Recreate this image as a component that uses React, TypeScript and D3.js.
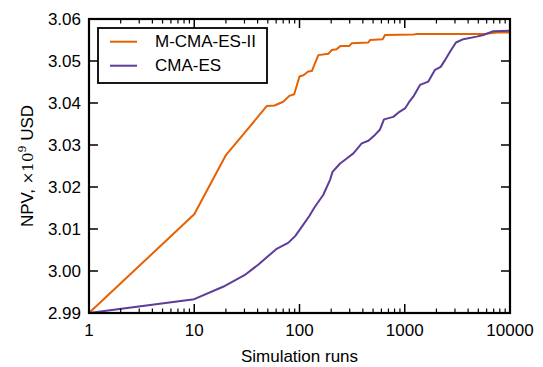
import React from "react";
import * as d3 from "d3";

const mcmaRuns = [1, 10, 20, 34, 49, 58, 70, 80, 89, 100, 109, 121, 131, 151, 188, 202, 225, 246, 298, 313, 451, 468, 617, 649, 1204, 1297, 5580, 7480, 10000];
const mcmaNpv = [2.99, 3.0135, 3.0276, 3.0345, 3.0393, 3.0394, 3.0403, 3.0417, 3.0421, 3.0463, 3.0466, 3.0475, 3.0476, 3.0514, 3.0517, 3.0526, 3.0528, 3.0536, 3.0536, 3.0542, 3.0544, 3.055, 3.0552, 3.0562, 3.0563, 3.0564, 3.0564, 3.0568, 3.0568];

const cmaRuns = [1, 10, 19, 30, 41, 60, 78, 91, 105, 124, 140, 168, 195, 206, 243, 281, 325, 390, 451, 521, 582, 635, 778, 868, 1005, 1105, 1205, 1396, 1675, 1938, 2195, 2412, 2690, 3067, 3597, 4819, 5585, 6936, 10000];
const cmaNpv = [2.99, 2.9933, 2.9963, 2.999, 3.0016, 3.0052, 3.0067, 3.0083, 3.0105, 3.0131, 3.0153, 3.0181, 3.0217, 3.0236, 3.0256, 3.0268, 3.028, 3.0304, 3.031, 3.0324, 3.0337, 3.0361, 3.0367, 3.0377, 3.0387, 3.0403, 3.0415, 3.0443, 3.0451, 3.0479, 3.0486, 3.0502, 3.0522, 3.0544, 3.0552, 3.0558, 3.0562, 3.0571, 3.0572];

const xTicks = [1, 10, 100, 1000, 10000];
const yTicks = [2.99, 3.0, 3.01, 3.02, 3.03, 3.04, 3.05, 3.06];
const seriesNames = ["M-CMA-ES-II", "CMA-ES"];
const colors = ["#e66101", "#5e3c99"];

export default function App() {
  const W = 543, H = 367;
  const L = 89, R = 510, T = 19, B = 313;
  const x = d3.scaleLog().domain([1, 10000]).range([L, R]);
  const y = d3.scaleLinear().domain([2.99, 3.06]).range([B, T]);
  const line = d3.line<[number, number]>().x(d => x(d[0])).y(d => y(d[1]));
  const series = [
    mcmaRuns.map((r, i) => [r, mcmaNpv[i]] as [number, number]),
    cmaRuns.map((r, i) => [r, cmaNpv[i]] as [number, number]),
  ];
  const minor: number[] = [];
  for (let d = 1; d < 10000; d *= 10) for (let k = 2; k <= 9; k++) minor.push(d * k);
  const font = "'Liberation Sans', Arial, Helvetica, sans-serif";
  const fs = 17;
  return (
    <svg width={W} height={H} style={{ position: "absolute", left: 0, top: 0 }} fontFamily={font}>
      <rect width={W} height={H} fill="#fff" />
      {series.map((s, i) => (
        <path key={i} d={line(s) || ""} fill="none" stroke={colors[i]} strokeWidth={2} strokeLinejoin="round" />
      ))}
      {xTicks.map(t => (
        <g key={"x" + t}>
          <line x1={x(t)} x2={x(t)} y1={B} y2={B - 9} stroke="#000" strokeWidth={1.5} />
          <line x1={x(t)} x2={x(t)} y1={T} y2={T + 9} stroke="#000" strokeWidth={1.5} />
          <text x={x(t)} y={336} textAnchor="middle" fontSize={fs}>{t}</text>
        </g>
      ))}
      {minor.map(t => (
        <g key={"m" + t}>
          <line x1={x(t)} x2={x(t)} y1={B} y2={B - 4.5} stroke="#000" strokeWidth={1.2} />
          <line x1={x(t)} x2={x(t)} y1={T} y2={T + 4.5} stroke="#000" strokeWidth={1.2} />
        </g>
      ))}
      {yTicks.map(t => (
        <g key={"y" + t}>
          <line x1={L} x2={L + 9} y1={y(t)} y2={y(t)} stroke="#000" strokeWidth={1.5} />
          <line x1={R} x2={R - 9} y1={y(t)} y2={y(t)} stroke="#000" strokeWidth={1.5} />
          <text x={81} y={y(t) + 6} textAnchor="end" fontSize={fs}>{t.toFixed(2)}</text>
        </g>
      ))}
      <rect x={L} y={T} width={R - L} height={B - T} fill="none" stroke="#000" strokeWidth={2.2} />
      <text x={(L + R) / 2} y={362} textAnchor="middle" fontSize={fs}>Simulation runs</text>
      <text transform={`translate(33,${(T + B) / 2}) rotate(-90)`} textAnchor="middle" fontSize={fs}>
        NPV, <tspan fontFamily="'DejaVu Serif', serif" fontSize={15}>×10</tspan>
        <tspan fontFamily="'DejaVu Serif', serif" fontSize={11} dy={-7}>9</tspan>
        <tspan dy={7}> USD</tspan>
      </text>
      <rect x={98} y={28} width={169} height={55} fill="#fff" stroke="#000" strokeWidth={1.8} />
      {seriesNames.map((n, i) => (
        <g key={n}>
          <line x1={110} x2={137} y1={41.7 + i * 24} y2={41.7 + i * 24} stroke={colors[i]} strokeWidth={2} />
          <text x={155} y={47.3 + i * 24} fontSize={fs}>{n}</text>
        </g>
      ))}
    </svg>
  );
}
